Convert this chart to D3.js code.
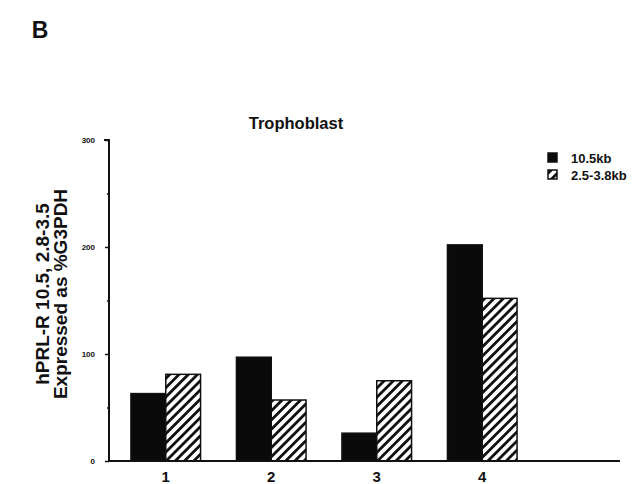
<!DOCTYPE html>
<html><head><meta charset="utf-8">
<script src="https://cdn.jsdelivr.net/npm/d3@7"></script>
<style>body{margin:0;background:#fff}svg{display:block}text{font-family:"Liberation Sans",Arial,sans-serif;font-weight:bold;fill:#111}</style>
</head><body>
<svg id="c" width="634" height="484"></svg>
<script>
const categories = ["1","2","3","4"];
const series = ["10.5kb","2.5-3.8kb"];
const values10_5kb = [63, 97, 26, 202];
const values2_5_3_8kb = [81, 57, 75, 152];
const yTicks = [0,100,200,300];
const yMinorTicks = [50,150,250];

(function(){
const svg = d3.select("#c");
const defs = svg.append("defs");
const pat = defs.append("pattern").attr("id","hatch").attr("patternUnits","userSpaceOnUse")
  .attr("width",6.5).attr("height",6.5).attr("patternTransform","rotate(45)");
pat.append("rect").attr("width",6.5).attr("height",6.5).attr("fill","#fff");
pat.append("rect").attr("x",0).attr("y",0).attr("width",2.8).attr("height",6.5).attr("fill","#111");

const x0 = 109, xEnd = 620, base = 461, yTop = 140;
const y = d3.scaleLinear().domain([0,300]).range([base, yTop]);
const x = d3.scaleBand().domain(categories).range([113, 535]).paddingInner(0.34).paddingOuter(0.17);
const xs = d3.scaleBand().domain(series).range([0, x.bandwidth()]);

const data = categories.map((c,i)=>({c, v:[values10_5kb[i], values2_5_3_8kb[i]]}));
const g = svg.append("g");
data.forEach(d=>{
  series.forEach((s,j)=>{
    g.append("rect")
      .attr("x", x(d.c)+xs(s)).attr("y", y(d.v[j]))
      .attr("width", xs.bandwidth()).attr("height", base - y(d.v[j]))
      .attr("fill", j===0 ? "#0a0a0a" : "url(#hatch)")
      .attr("stroke","#111").attr("stroke-width",1.5);
  });
});

const yAxis = d3.axisLeft(y).tickValues(yTicks).tickSize(4).tickFormat(d3.format("d"));
const ya = svg.append("g").attr("transform",`translate(${x0},0)`).call(yAxis);
ya.select(".domain").attr("stroke","#111").attr("stroke-width",2).attr("d",`M-5,${yTop}H0V${base}`);
ya.selectAll(".tick line").attr("stroke","#111").attr("stroke-width",1.5);
ya.selectAll(".tick text").attr("x",-14).attr("fill","#111").style("font-size","8px").style("font-family","Liberation Sans, Arial").style("font-weight","bold");
svg.append("g").attr("transform",`translate(${x0},0)`)
  .call(d3.axisLeft(y).tickValues(yMinorTicks).tickSize(2).tickFormat(""))
  .call(gg=>gg.select(".domain").remove())
  .selectAll("line").attr("stroke","#111").attr("stroke-width",1.5);

const xAxis = d3.axisBottom(x).tickSize(0).tickPadding(10);
const xa = svg.append("g").attr("transform",`translate(0,${base})`).call(xAxis);
xa.select(".domain").remove();
xa.selectAll(".tick text").attr("fill","#111").style("font-size","15px");
svg.append("line").attr("x1",x0).attr("x2",xEnd).attr("y1",base).attr("y2",base)
  .attr("stroke","#111").attr("stroke-width",2);

svg.append("text").attr("x",40).attr("y",38).attr("text-anchor","middle").style("font-size","23px").text("B");
svg.append("text").attr("x",296).attr("y",129).attr("text-anchor","middle").style("font-size","16.5px").text("Trophoblast");
const yl = svg.append("text").attr("transform","translate(0,294) rotate(-90)").attr("text-anchor","middle").style("font-size","19px");
yl.append("tspan").attr("x",0).attr("y",49).text("hPRL-R 10.5, 2.8-3.5");
yl.append("tspan").attr("x",0).attr("y",67).text("Expressed as %G3PDH");

const lg = svg.append("g").attr("transform","translate(548,153)");
series.forEach((s,i)=>{
  lg.append("rect").attr("x",0).attr("y",i*17).attr("width",9).attr("height",9)
    .attr("fill", i===0 ? "#0a0a0a" : "url(#hatch)").attr("stroke","#111").attr("stroke-width",1.5);
  lg.append("text").attr("x",23).attr("y",i*17+9.5).style("font-size","13px").text(s);
});
})();
</script>
</body></html>
